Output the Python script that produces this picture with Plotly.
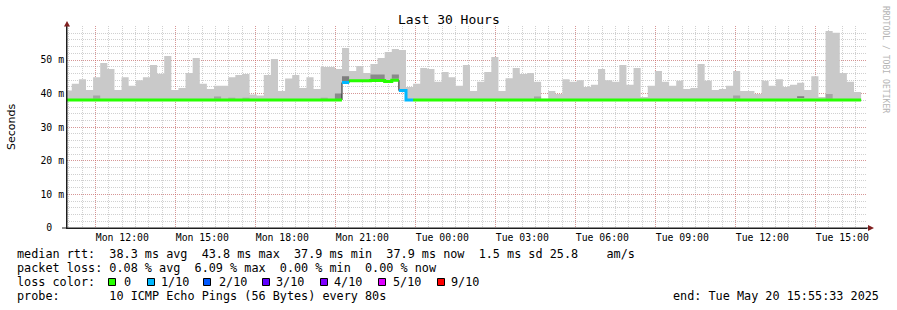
import plotly.graph_objects as go

# ---------------- data ----------------
VIEW_START_H = 9 + 55 / 60 + 33 / 3600     # Mon 09:55:33, hours since Mon 00:00
VIEW_END_H = 39 + 55 / 60 + 33 / 3600      # Tue 15:55:33
FIRST_BAR_H = 9 + 50.3 / 60                # first consolidated step start
STEP_H = 16 / 60                           # 960 s steps

label_hours = [12, 15, 18, 21, 24, 27, 30, 33, 36, 39]
day_names = ["Mon", "Tue"]

# max rtt (top of smoke) per step, ms
smoke_max = [40.9, 42.9, 44.3, 41.1, 44.9, 49.1, 47.3, 41.1, 44.9, 42.3,
             44.0, 44.9, 48.5, 45.9, 51.2, 41.1, 41.7, 46.1, 50.6, 42.9,
             41.4, 42.3, 42.3, 44.9, 45.5, 45.8, 39.7, 39.4, 45.5, 50.3,
             40.8, 44.5, 45.5, 41.7, 44.9, 41.4, 47.9, 47.9, 47.3, 53.6,
             46.7, 48.2, 46.1, 48.8, 50.6, 52.4, 53.3, 53.0, 42.0, 42.9,
             47.6, 47.3, 43.5, 46.4, 44.9, 42.3, 48.5, 40.8, 43.5, 46.4,
             50.9, 40.8, 44.6, 47.6, 45.8, 46.1, 43.5, 38.5, 40.8, 39.9,
             44.3, 43.5, 44.0, 42.0, 42.6, 47.3, 44.0, 43.5, 48.5, 42.6,
             47.6, 39.0, 42.3, 46.7, 43.5, 42.3, 43.8, 41.4, 41.7, 48.8,
             43.8, 41.1, 41.4, 42.3, 46.7, 40.8, 40.8, 39.9, 43.8, 42.3,
             44.3, 42.0, 42.6, 43.2, 41.1, 45.2, 39.0, 58.6, 58.1, 46.1,
             43.5, 40.5]

MIN_DEFAULT = 37.9
MEDIAN_DEFAULT = 38.1
step_bars = [39, 40, 41, 42, 43, 44, 45, 46, 47, 48]
step_median = [43.3, 43.8, 43.8, 43.8, 43.9, 43.9, 43.6, 44.0, 40.9, 38.1]
step_min = [43.0, 43.5, 43.5, 43.5, 43.6, 43.6, 43.3, 43.7, 40.6, 37.9]

loss_bars = [39, 47, 48]
loss_tenths = [1, 1, 1]

# inner smoke layers (darker grey)
patch_bars = [4, 21, 23, 25, 36, 38, 39, 43, 44, 46, 66, 94, 103, 107]
patch_lo = [38.5, 38.5, 38.5, 38.5, 38.5, 38.3, 43.4, 44.2, 44.2, 44.4, 38.5, 38.5, 38.7, 38.5]
patch_hi = [39.4, 39.1, 38.8, 38.8, 38.8, 40.0, 45.2, 45.7, 45.7, 45.7, 39.1, 39.4, 39.2, 39.9]
patch_shade = ["#a4a4a4", "#a4a4a4", "#a4a4a4", "#a4a4a4", "#a4a4a4", "#8a8a8a", "#7e7e7e",
               "#8a8a8a", "#8a8a8a", "#8a8a8a", "#a4a4a4", "#a4a4a4", "#7e7e7e", "#a4a4a4"]

loss_levels = [0, 1, 2, 3, 4, 5, 9]
loss_labels = ["0", "1/10", "2/10", "3/10", "4/10", "5/10", "9/10"]
loss_colors = ["#26ff00", "#00b8ff", "#0059ff", "#5e00ff", "#7e00ff", "#dd00ff", "#ff0000"]

rtt_line = "median rtt:  38.3 ms avg  43.8 ms max  37.9 ms min  37.9 ms now  1.5 ms sd 25.8    am/s"
loss_line = "packet loss: 0.08 % avg  6.09 % max  0.00 % min  0.00 % now"
loss_color_label = "loss color:"
probe_line = "probe:       10 ICMP Echo Pings (56 Bytes) every 80s"
end_text = "end: Tue May 20 15:55:33 2025"
title_text = "Last 30 Hours"
ylabel_text = "Seconds"
credit_text = "RRDTOOL / TOBI OETIKER"

# ---------------- derived series ----------------
n = len(smoke_max)
starts = [FIRST_BAR_H + i * STEP_H for i in range(n)]
edges = starts + [starts[-1] + STEP_H]
median = [MEDIAN_DEFAULT] * n
smin = [MIN_DEFAULT] * n
for b, m, lo in zip(step_bars, step_median, step_min):
    median[b] = m
    smin[b] = lo
loss = [0] * n
for b, l in zip(loss_bars, loss_tenths):
    loss[b] = l

# ---------------- geometry ----------------
W, H = 897, 310
L, R, T, B = 67, 30, 26, 82
PW, PH = W - L - R, H - T - B
YMAX = PH / 3.36


def px(x):
    return (x - L) / PW


def py(y):
    return (T + PH - y) / PH


MONO = "DejaVu Sans Mono"
LEG_SIZE = 11.8
fig = go.Figure()

# smoke outer layer: stepped area from min to max
fig.add_trace(go.Scatter(x=edges, y=smin + [smin[-1]], mode="lines",
                         line=dict(width=0, shape="hv"), hoverinfo="skip", showlegend=False))
fig.add_trace(go.Scatter(x=edges, y=smoke_max + [smoke_max[-1]], mode="lines",
                         line=dict(width=0, shape="hv"), fill="tonexty",
                         fillcolor="#c9c9c9", hoverinfo="skip", showlegend=False))

# inner smoke layers, grouped by shade
for shade in sorted(set(patch_shade)):
    xs, ys = [], []
    for b, lo, hi, s in zip(patch_bars, patch_lo, patch_hi, patch_shade):
        if s != shade:
            continue
        x0, x1 = starts[b], starts[b] + STEP_H
        xs += [x0, x1, x1, x0, x0, None]
        ys += [lo, lo, hi, hi, lo, None]
    fig.add_trace(go.Scatter(x=xs, y=ys, mode="lines", fill="toself", fillcolor=shade,
                             line=dict(width=0), hoverinfo="skip", showlegend=False))

# dark median line underneath
fig.add_trace(go.Scatter(
    x=edges, y=median + [median[-1]], mode="lines",
    line=dict(color="#202020", width=1, shape="hv"), hoverinfo="skip", showlegend=False))

# colored median segments by loss
for lvl, col in zip(loss_levels, loss_colors):
    xs, ys = [], []
    i = 0
    while i < n:
        if loss[i] == lvl:
            j = i
            while j + 1 < n and loss[j + 1] == lvl:
                j += 1
            xs += starts[i:j + 1] + [starts[j] + STEP_H, None]
            ys += median[i:j + 1] + [median[j], None]
            i = j + 1
        else:
            i += 1
    if xs:
        fig.add_trace(go.Scatter(x=xs, y=ys, mode="lines",
                                 line=dict(color=col, width=3, shape="hv"),
                                 hoverinfo="skip", showlegend=False))

# dummy trace to create grid overlay axis
fig.add_trace(go.Scatter(x=[], y=[], xaxis="x2", showlegend=False))

tick_text = [f"{day_names[h // 24]} {h % 24:02d}:00" for h in label_hours]
GRID = "rgba(143,143,143,0.42)"
MGRID = "rgba(222,79,79,0.45)"

fig.update_layout(
    width=W, height=H, margin=dict(l=L, r=R, t=T, b=B, autoexpand=False),
    paper_bgcolor="white", plot_bgcolor="white",
    font=dict(family=MONO, size=10, color="black"),
    xaxis=dict(range=[VIEW_START_H, VIEW_END_H], tickmode="array", tickvals=label_hours,
               ticktext=tick_text, showgrid=False, ticks="", zeroline=False,
               showline=True, linecolor="#1f1f1f", linewidth=1,
               tickfont=dict(family=MONO, size=9.8), automargin=False),
    xaxis2=dict(range=[VIEW_START_H, VIEW_END_H], overlaying="x", anchor="y",
                tickmode="array", tickvals=list(range(11, 40, 3)), showticklabels=False,
                ticks="", showgrid=True, gridcolor=MGRID, griddash="1px,1px", gridwidth=1,
                zeroline=False, showline=False,
                minor=dict(tickmode="linear", tick0=0, dtick=0.5, showgrid=True,
                           gridcolor=GRID, griddash="1px,1px", gridwidth=1)),
    yaxis=dict(range=[0, YMAX], tickmode="array", tickvals=[0, 10, 20, 30, 40, 50],
               ticktext=["0\u00a0\u00a0", "10 m", "20 m", "30 m", "40 m", "50 m"],
               showgrid=True, gridcolor=MGRID, griddash="1px,1px", gridwidth=1,
               minor=dict(tickmode="linear", tick0=0, dtick=2, showgrid=True,
                          gridcolor=GRID, griddash="1px,1px", gridwidth=1),
               ticks="", zeroline=False, showline=True, linecolor="#1f1f1f",
               tickfont=dict(family=MONO, size=9.8), automargin=False),
)

shapes = []
AX = "#801f1f"
shapes.append(dict(type="line", xref="paper", yref="paper", x0=px(62), x1=px(868),
                   y0=py(228), y1=py(228), line=dict(color="#1f1f1f", width=1)))
shapes.append(dict(type="line", xref="paper", yref="paper", x0=px(67), x1=px(67),
                   y0=py(228), y1=py(24), line=dict(color="#1f1f1f", width=1)))
shapes.append(dict(type="path", xref="paper", yref="paper",
                   path=f"M {px(64)},{py(26.5)} L {px(67)},{py(21)} L {px(70)},{py(26.5)} Z",
                   fillcolor=AX, line=dict(width=0)))
shapes.append(dict(type="path", xref="paper", yref="paper",
                   path=f"M {px(868)},{py(225)} L {px(874)},{py(228)} L {px(868)},{py(231)} Z",
                   fillcolor=AX, line=dict(width=0)))

annotations = []


def txt(s, x, y, size=LEG_SIZE, anchor="left", color="black", family=MONO, angle=0):
    annotations.append(dict(text=s.replace(" ", "\u00a0"), x=px(x), y=py(y), xref="paper",
                            yref="paper", xanchor=anchor, yanchor="middle", showarrow=False,
                            borderpad=0, textangle=angle,
                            font=dict(family=family, size=size, color=color)))


txt(title_text, 448.5, 20, size=13, anchor="center")
txt(ylabel_text, 11, 127, size=11, anchor="center", family="DejaVu Sans", angle=-90)
txt(credit_text, 886, 59, size=8.1, anchor="center", color="#b4b4b4", angle=90)

txt(rtt_line, 16, 254)
txt(loss_line, 16, 268)
txt(loss_color_label, 16, 282)
sq_x = [108, 147, 203, 262, 320, 378, 437]
lab_x = [123, 160, 218, 275, 333, 392, 450]
for lab, col, sx, lx in zip(loss_labels, loss_colors, sq_x, lab_x):
    shapes.append(dict(type="rect", xref="paper", yref="paper", x0=px(sx + 0.5), x1=px(sx + 7.5),
                       y0=py(278.5), y1=py(285.5), fillcolor=col,
                       line=dict(color="black", width=1)))
    txt(lab, lx, 282)
txt(probe_line, 16, 296)
txt(end_text, 880, 296, anchor="right")

fig.update_layout(shapes=shapes, annotations=annotations)
fig.write_html("out.html")
